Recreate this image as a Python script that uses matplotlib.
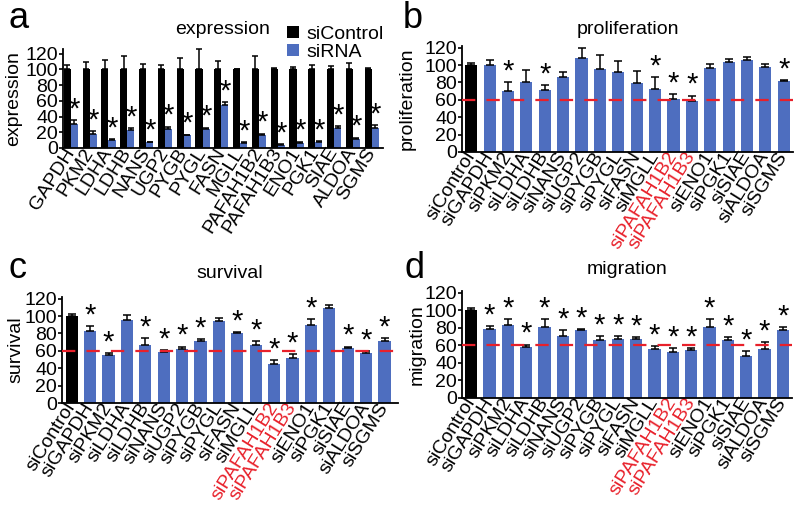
import matplotlib
matplotlib.use("Agg")
import matplotlib.pyplot as plt
import numpy as np

plt.rcParams['font.family'] = ['Liberation Sans', 'DejaVu Sans']

# ---------------- data ----------------
genes = ["GAPDH", "PKM2", "LDHA", "LDHB", "NANS", "UGP2", "PYGB", "PYGL", "FASN",
         "MGLL", "PAFAH1B2", "PAFAH1B3", "ENO1", "PGK1", "SIAE", "ALDOA", "SGMS"]

expr_ctrl = [100] * 17
expr_ctrl_err = [6, 9, 12, 17, 7, 6, 14, 26, 11, 1, 17, 2, 3, 5, 4, 8, 2]
expr_sirna = [31, 18, 10, 23, 7, 24, 16, 24, 55, 6, 16, 4, 6, 8, 26, 12, 25]
expr_sirna_err = [4, 3, 1, 2, 1, 3, 1, 2, 3, 1, 2, 1, 2, 1, 2, 1, 4]
expr_star = [1] * 17

conditions = ["siControl"] + ["si" + g for g in genes]

prolif = [100, 100, 70, 81, 71, 86, 108, 95, 92, 79, 73, 61, 59, 97, 104, 106, 98, 82]
prolif_err = [3, 6, 10, 13, 6, 6, 12, 17, 13, 14, 13, 6, 6, 4, 3, 3, 3, 1]
prolif_star = [0, 0, 1, 0, 1, 0, 0, 0, 0, 0, 1, 1, 1, 0, 0, 0, 0, 1]

surv = [100, 83, 55, 95, 67, 59, 62, 71, 94, 80, 67, 45, 52, 90, 109, 63, 57, 71]
surv_err = [2, 6, 3, 6, 8, 2, 3, 3, 4, 2, 4, 4, 4, 7, 4, 2, 3, 4]
surv_star = [0, 1, 1, 0, 1, 1, 1, 1, 0, 1, 1, 1, 1, 1, 0, 1, 1, 1]

migr = [100, 79, 83, 58, 81, 71, 77, 66, 67, 67, 56, 53, 55, 81, 66, 48, 56, 78]
migr_err = [3, 3, 7, 3, 9, 6, 2, 5, 4, 3, 3, 4, 2, 9, 4, 6, 8, 3]
migr_star = [0, 1, 1, 1, 1, 1, 1, 1, 1, 1, 1, 1, 1, 1, 1, 1, 1, 1]

red_labels = ["siPAFAH1B2", "siPAFAH1B3"]
yticks = [0, 20, 40, 60, 80, 100, 120]
threshold = 60

BLUE = "#4E6EBF"
RED = "#E8202A"
FS = 14
STAR_FS = 21

fig = plt.figure(figsize=(8, 5.07), dpi=100)
W, H = 800, 507


def add_ax(x0, x1, ytop, ybot):
    return fig.add_axes([x0 / W, 1 - ybot / H, (x1 - x0) / W, (ybot - ytop) / H])


def style(ax, ylim):
    for s in ["top", "right"]:
        ax.spines[s].set_visible(False)
    for s in ["left", "bottom"]:
        ax.spines[s].set_linewidth(1.3)
    ax.set_ylim(*ylim)
    ax.set_yticks(yticks)
    ax.tick_params(axis='y', labelsize=FS, length=3, width=1.2, pad=0.5)
    ax.tick_params(axis='x', length=0, labelsize=FS, pad=1)


def star(ax, xpos, ytop):
    ax.text(xpos, ytop, "*", ha='center', va='bottom', fontsize=STAR_FS)


# ---------------- panel a ----------------
axa = add_ax(63, 383, 49, 148)
x = np.arange(len(genes))
w = 0.38
b1 = axa.bar(x - w / 2, expr_ctrl, w, color="black", label="siControl")
b2 = axa.bar(x + w / 2, expr_sirna, w, color=BLUE, label="siRNA")
axa.errorbar(x - w / 2, expr_ctrl, yerr=[np.zeros(17), expr_ctrl_err], fmt='none',
             ecolor='black', elinewidth=1.1, capsize=2.5, capthick=1.1, clip_on=False)
axa.errorbar(x + w / 2, expr_sirna, yerr=[np.zeros(17), expr_sirna_err], fmt='none',
             ecolor='black', elinewidth=1.1, capsize=2.5, capthick=1.1, clip_on=False)
for i in range(17):
    if expr_star[i]:
        star(axa, x[i] + w / 2, expr_sirna[i] + expr_sirna_err[i] - 4)
style(axa, (0, 126))
axa.set_xlim(-0.42, 16.6)
axa.set_xticks(x)
axa.set_xticklabels(genes, rotation=58, ha='right', va='center', rotation_mode='anchor')
axa.set_ylabel("expression", fontsize=FS)
axa.yaxis.set_label_coords(-0.127, 0.5)
axa.set_title("expression", fontsize=FS, pad=11)
axa.legend(handles=[b1, b2], loc='upper left', bbox_to_anchor=(287 / W, 1 - 26 / H),
           bbox_transform=fig.transFigure, frameon=False, fontsize=FS,
           handlelength=0.6, handleheight=0.6, handletextpad=0.4, labelspacing=0.05,
           borderaxespad=0, borderpad=0)


# ---------------- panels b-d ----------------
def single_panel(ax, vals, errs, stars, title, xlim, pad):
    xs = np.arange(len(vals))
    colors = ["black"] + [BLUE] * (len(vals) - 1)
    ax.bar(xs, vals, 0.66, color=colors)
    ax.errorbar(xs, vals, yerr=[np.zeros(len(vals)), errs], fmt='none', ecolor='black',
                elinewidth=1.1, capsize=3, capthick=1.1, clip_on=False)
    for i in range(len(vals)):
        if stars[i]:
            star(ax, xs[i], vals[i] + errs[i] - 4)
    style(ax, (0, 122))
    ax.set_xlim(*xlim)
    ax.axhline(threshold, color=RED, lw=1.6, dashes=(6, 5), zorder=5)
    ax.set_xticks(xs)
    labs = ax.set_xticklabels(conditions, rotation=58, ha='right', va='center',
                              rotation_mode='anchor')
    for t in labs:
        if t.get_text() in red_labels:
            t.set_color(RED)
    ax.set_ylabel(title, fontsize=FS)
    ax.set_title(title, fontsize=FS, pad=pad)


axb = add_ax(462, 793, 46, 152)
single_panel(axb, prolif, prolif_err, prolif_star, "proliferation", (-0.5, 17.5), 9)
axb.yaxis.set_label_coords(-0.139, 0.5)

axc = add_ax(62, 398, 297, 403)
single_panel(axc, surv, surv_err, surv_star, "survival", (-0.53, 17.73), 14)
axc.yaxis.set_label_coords(-0.113, 0.5)

axd = add_ax(462, 792, 291, 398)
single_panel(axd, migr, migr_err, migr_star, "migration", (-0.5, 17.5), 12)
axd.yaxis.set_label_coords(-0.109, 0.5)

# panel letters
for lab, (px, py) in zip("abcd", [(8, 28), (403, 28), (8, 278), (405, 278)]):
    fig.text(px / W, 1 - py / H, lab, fontsize=26, ha='left', va='baseline')

fig.savefig("out.png", dpi=100)
